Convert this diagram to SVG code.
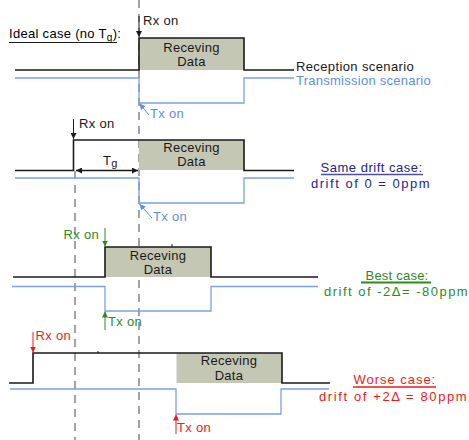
<svg xmlns="http://www.w3.org/2000/svg" width="469" height="440" viewBox="0 0 469 440">
<style>
text{font-family:"Liberation Sans",Arial,sans-serif;font-size:13px;letter-spacing:0.3px}
.blk{fill:none;stroke:#1a1a1a;stroke-width:1.6}
.blu{fill:none;stroke:#7aa3e0;stroke-width:1.3}
.box{fill:#c5c7b5}
.dash{stroke:#9a9a9a;stroke-width:1.8;stroke-dasharray:8 6;fill:none}
.lbl{fill:#1a1a1a;text-anchor:middle}
.navy{fill:#25258c}
.grn{fill:#2e8a1c}
.red{fill:#f21818}
.bluet{fill:#5d8fdc}
</style>
<defs>
<marker id="ak" viewBox="0 0 6 6" refX="6" refY="3" markerWidth="6" markerHeight="6" markerUnits="userSpaceOnUse" orient="auto-start-reverse"><path d="M0,0L6,3L0,6z" fill="#1a1a1a"/></marker>
<marker id="ab" viewBox="0 0 6 6" refX="6" refY="3" markerWidth="6" markerHeight="6" markerUnits="userSpaceOnUse" orient="auto"><path d="M0,0L6,3L0,6z" fill="#5d8fdc"/></marker>
<marker id="ag" viewBox="0 0 6 6" refX="6" refY="3" markerWidth="6" markerHeight="6" markerUnits="userSpaceOnUse" orient="auto"><path d="M0,0L6,3L0,6z" fill="#2e8a1c"/></marker>
<marker id="ar" viewBox="0 0 6 6" refX="6" refY="3" markerWidth="6" markerHeight="6" markerUnits="userSpaceOnUse" orient="auto"><path d="M0,0L6,3L0,6z" fill="#f21818"/></marker>
</defs>

<g id="guides">
<line class="dash" x1="139" y1="0" x2="139" y2="440"/>
<line class="dash" x1="75" y1="171" x2="75" y2="440"/>
</g>

<g id="ideal-case">
<text x="9" y="38">Ideal case (no T<tspan font-size="10" dy="3">g</tspan><tspan dy="-3">):</tspan></text>
<line x1="9" y1="42.5" x2="117" y2="42.5" stroke="#1a1a1a" stroke-width="1.2"/>
<rect class="box" x="139" y="38" width="105" height="32"/>
<polyline class="blk" points="15,70 139,70 139,38 244,38 244,70 294,70"/>
<polyline class="blu" points="15,78 139,78 139,103 244,103 244,78 294,78"/>
<text class="lbl" x="191.5" y="51.5">Receving</text>
<text class="lbl" x="191.5" y="66">Data</text>
<text x="143" y="25" fill="#1a1a1a">Rx on</text>
<text x="150" y="118" class="bluet">Tx on</text>
<text x="296" y="71" fill="#1a1a1a" textLength="118" lengthAdjust="spacing">Reception scenario</text>
<text x="296" y="84.5" class="bluet" textLength="135" lengthAdjust="spacing">Transmission scenario</text>
</g>

<g id="same-drift-case">
<rect class="box" x="139" y="140" width="105" height="30"/>
<polyline class="blk" points="15,170.5 73.5,170.5 73.5,140 244,140 244,170.5 294,170.5"/>
<polyline class="blu" points="15,178 139,178 139,203 244,203 244,178 294,178"/>
<text class="lbl" x="191.5" y="151.5">Receving</text>
<text class="lbl" x="191.5" y="165.5">Data</text>
<text x="79" y="128" fill="#1a1a1a">Rx on</text>
<text x="103" y="165" fill="#1a1a1a">T<tspan font-size="11" dy="2">g</tspan></text>
<text x="153" y="221" class="bluet">Tx on</text>
<text x="371.5" y="172" class="navy" text-anchor="middle" textLength="102" lengthAdjust="spacing">Same drift case:</text>
<line x1="321" y1="174.5" x2="423" y2="174.5" stroke="#25258c" stroke-width="1.5" opacity="0.8"/>
<text x="311" y="188" class="navy" textLength="119" lengthAdjust="spacing">drift of 0 = 0ppm</text>
</g>

<g id="best-case">
<rect class="box" x="105" y="247" width="106" height="30"/>
<polyline class="blk" points="13,277 105,277 105,247 211,247 211,277 318,277"/>
<polyline class="blu" points="12,286.5 105,286.5 105,311 211,311 211,286.5 318,286.5"/>
<line x1="172" y1="244" x2="172" y2="247" stroke="#1a1a1a" stroke-width="1"/>
<text class="lbl" x="158" y="259.5">Receving</text>
<text class="lbl" x="158" y="274">Data</text>
<text x="99" y="239" class="grn" text-anchor="end">Rx on</text>
<text x="108" y="326" class="grn">Tx on</text>
<text x="397" y="280" class="grn" text-anchor="middle" textLength="63" lengthAdjust="spacing">Best case:</text>
<line x1="361" y1="282.5" x2="431" y2="282.5" stroke="#2e8a1c" stroke-width="2"/>
<text x="324" y="296" class="grn" textLength="144" lengthAdjust="spacing">drift of -2Δ= -80ppm</text>
</g>

<g id="worse-case">
<rect class="box" x="176.5" y="353" width="105.5" height="30"/>
<polyline class="blk" points="9,383 33,383 33,353 282,353 282,383 330,383"/>
<polyline class="blu" points="10,389 176,389 176,414 281,414 281,389 329,389"/>
<line x1="98" y1="351" x2="98" y2="353" stroke="#1a1a1a" stroke-width="1"/>
<text class="lbl" x="229" y="365">Receving</text>
<text class="lbl" x="229" y="379.5">Data</text>
<text x="35.5" y="340" class="red">Rx on</text>
<text x="177" y="432" class="red">Tx on</text>
<text x="394.5" y="384" class="red" text-anchor="middle" textLength="82" lengthAdjust="spacing">Worse case:</text>
<line x1="353" y1="387" x2="436" y2="387" stroke="#f21818" stroke-width="1.3"/>
<text x="319" y="401" class="red" textLength="148" lengthAdjust="spacing">drift of +2Δ = 80ppm</text>
</g>

<g id="connectors">
<line x1="139" y1="16" x2="139" y2="37" stroke="#1a1a1a" stroke-width="1" marker-end="url(#ak)"/>
<line x1="149" y1="115" x2="139.5" y2="103.5" stroke="#5d8fdc" stroke-width="1" marker-end="url(#ab)"/>
<line x1="73.5" y1="119" x2="73.5" y2="139" stroke="#1a1a1a" stroke-width="1" marker-end="url(#ak)"/>
<line x1="76" y1="170.5" x2="138" y2="170.5" stroke="#1a1a1a" stroke-width="1.3" marker-start="url(#ak)" marker-end="url(#ak)"/>
<line x1="152" y1="218" x2="139.5" y2="204" stroke="#5d8fdc" stroke-width="1" marker-end="url(#ab)"/>
<line x1="105" y1="228" x2="105" y2="246.5" stroke="#2e8a1c" stroke-width="1" marker-end="url(#ag)"/>
<line x1="105" y1="330" x2="105" y2="311.5" stroke="#2e8a1c" stroke-width="1" marker-end="url(#ag)"/>
<line x1="33" y1="332" x2="33" y2="352.5" stroke="#f21818" stroke-width="1" marker-end="url(#ar)"/>
<line x1="176" y1="434" x2="176" y2="414.5" stroke="#f21818" stroke-width="1" marker-end="url(#ar)"/>
</g>
</svg>
